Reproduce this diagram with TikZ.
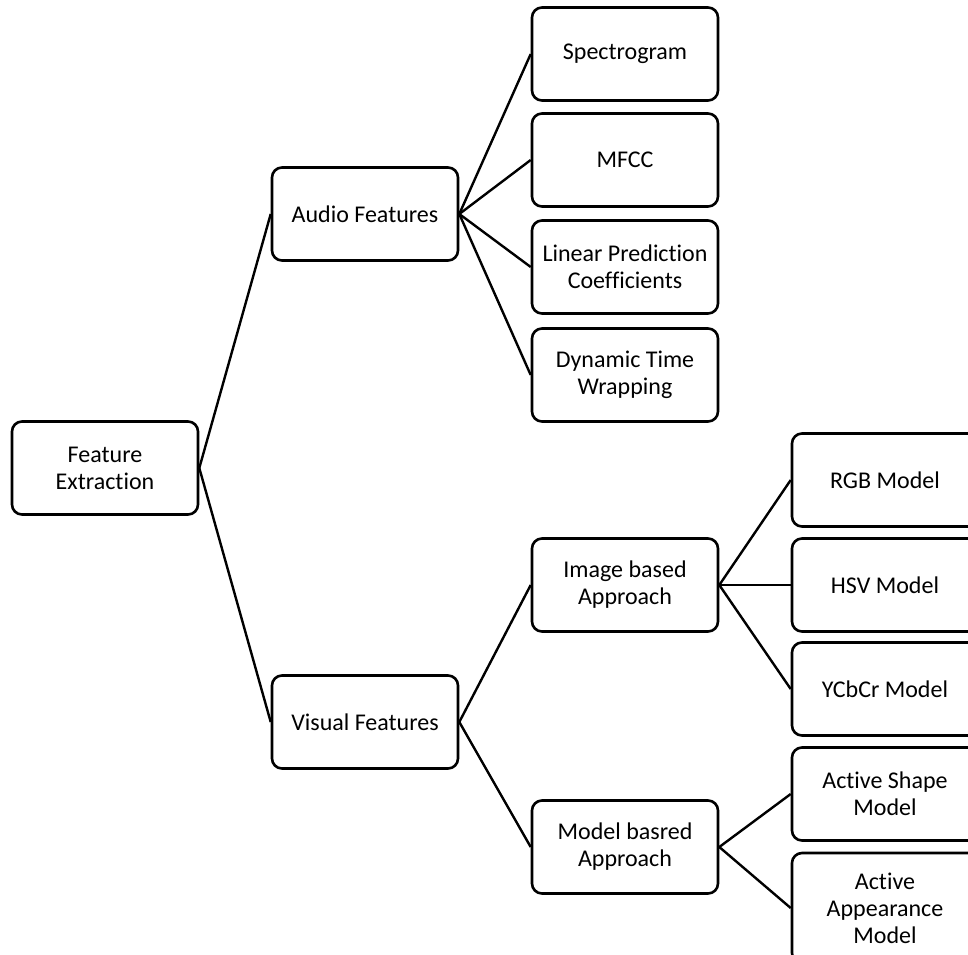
\documentclass[tikz,border=0pt]{standalone}
\usepackage{fontspec}
\setmainfont{Carlito}[Ligatures={NoCommon,NoContextual}]
\usepackage{tikz}

\tikzset{
  box/.style={draw,line width=1.3pt,rounded corners=5pt,align=center,
    minimum width=93pt,minimum height=46.5pt,inner sep=2pt,
    font=\fontsize{12}{13.5}\selectfont},
  link/.style={line width=1.2pt}
}

\begin{document}
\begin{tikzpicture}[x=0.5pt,y=-0.5pt]
  \clip (0,0) rectangle (968,954);
  % root
  \node[box] (fe) at (105,468) {Feature\\Extraction};
  % first level
  \node[box] (audio)  at (365,214) {Audio Features};
  \node[box] (visual) at (365,722) {Visual Features};
  % audio features
  \node[box] (spec) at (625,54)  {Spectrogram};
  \node[box] (mfcc) at (625,160) {MFCC};
  \node[box] (lpc)  at (625,267) {Linear Prediction\\Coefficients};
  \node[box] (dtw)  at (625,375) {Dynamic Time\\Wrapping};
  % visual features
  \node[box] (img) at (625,585) {Image based\\Approach};
  \node[box] (mdl) at (625,847) {Model basred\\Approach};
  \node[box] (rgb)   at (885,480) {RGB Model};
  \node[box] (hsv)   at (885,585) {HSV Model};
  \node[box] (ycbcr) at (885,689) {YCbCr Model};
  \node[box] (asm)   at (885,794) {Active Shape\\Model};
  \node[box,minimum height=55pt] (aam) at (885,908) {Active\\Appearance\\Model};
  % links
  \draw[link] (fe.east) -- (audio.west);
  \draw[link] (fe.east) -- (visual.west);
  \foreach \n in {spec,mfcc,lpc,dtw}
    \draw[link] (audio.east) -- (\n.west);
  \draw[link] (visual.east) -- (img.west);
  \draw[link] (visual.east) -- (mdl.west);
  \foreach \n in {rgb,hsv,ycbcr}
    \draw[link] (img.east) -- (\n.west);
  \foreach \n in {asm,aam}
    \draw[link] (mdl.east) -- (\n.west);
\end{tikzpicture}
\end{document}
